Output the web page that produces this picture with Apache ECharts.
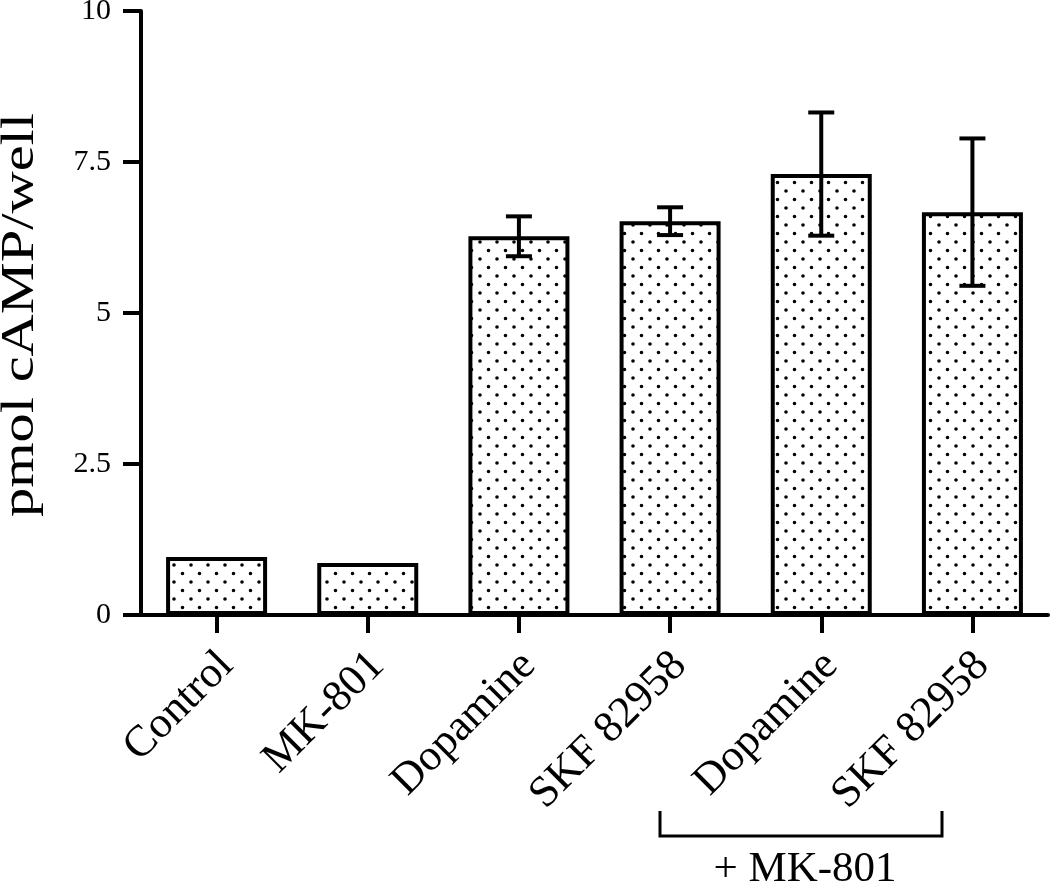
<!DOCTYPE html>
<html>
<head>
<meta charset="utf-8">
<title>pmol cAMP/well</title>
<script src="https://cdn.jsdelivr.net/npm/echarts@6/dist/echarts.min.js"></script>
<style>
  html, body { margin: 0; padding: 0; background: #fff; }
  #chart { width: 1050px; height: 886px; }
</style>
</head>
<body>
<div id="chart"></div>
<script>
// data
const categories = ['Control', 'MK-801', 'Dopamine', 'SKF 82958', 'Dopamine', 'SKF 82958']
const meanValues = [0.96, 0.86, 6.27, 6.52, 7.30, 6.67]
const semValues = [null, null, 0.33, 0.23, 1.02, 1.22]
const yTicks = [0, 2.5, 5, 7.5, 10]
const yTitle = 'pmol cAMP/well'
const groupLabel = '+ MK-801'

const serif = '"Liberation Serif", "Times New Roman", serif'

// dotted fill like the printed stipple
const makeDots = () => {
  const c = document.createElement('canvas')
  c.width = 17
  c.height = 17
  const ctx = c.getContext('2d')
  ctx.fillStyle = '#fff'
  ctx.fillRect(0, 0, 17, 17)
  ctx.fillStyle = '#000'
  ctx.beginPath()
  ctx.arc(4, 4, 1.8, 0, Math.PI * 2)
  ctx.arc(12.5, 12.5, 1.8, 0, Math.PI * 2)
  ctx.fill()
  return c
}

const errData = []
semValues.forEach((s, i) => {
  if (s == null) return
  errData.push([i, meanValues[i] - s, meanValues[i] + s])
})

const chart = echarts.init(document.getElementById('chart'), null, { renderer: 'canvas' })

chart.setOption({
  backgroundColor: '#fff',
  animation: false,
  grid: {
    left: 141,
    right: 2,
    top: 11,
    bottom: 271,
    containLabel: false,
    outerBoundsMode: 'none'
  },
  xAxis: {
    type: 'category',
    data: categories,
    axisLine: { lineStyle: { color: '#000', width: 4 } },
    axisTick: { show: true, alignWithLabel: true, length: 18, lineStyle: { color: '#000', width: 4 } },
    axisLabel: {
      rotate: 45,
      margin: 34,
      verticalAlign: 'top',
      lineHeight: 28,
      color: '#000',
      fontFamily: serif,
      fontSize: 44,
      interval: 0
    }
  },
  yAxis: {
    type: 'value',
    min: yTicks[0],
    max: yTicks[yTicks.length - 1],
    interval: yTicks[1] - yTicks[0],
    axisLine: { show: true, lineStyle: { color: '#000', width: 4 } },
    axisTick: { show: true, length: 18, lineStyle: { color: '#000', width: 4 } },
    splitLine: { show: false },
    axisLabel: { color: '#000', fontFamily: serif, fontSize: 30, margin: 30 }
  },
  series: [
    {
      type: 'bar',
      data: meanValues,
      barWidth: 101,
      itemStyle: {
        color: { image: makeDots(), repeat: 'repeat' },
        borderColor: '#000',
        borderWidth: 4
      },
      z: 2
    },
    {
      type: 'custom',
      data: errData,
      z: 5,
      renderItem: (params, api) => {
        const top = api.coord([api.value(0), api.value(2)])
        const bot = api.coord([api.value(0), api.value(1)])
        const cap = 13
        const st = { stroke: '#000', lineWidth: 4 }
        return {
          type: 'group',
          children: [
            { type: 'line', shape: { x1: top[0], y1: top[1], x2: bot[0], y2: bot[1] }, style: st },
            { type: 'line', shape: { x1: top[0] - cap, y1: top[1], x2: top[0] + cap, y2: top[1] }, style: st },
            { type: 'line', shape: { x1: bot[0] - cap, y1: bot[1], x2: bot[0] + cap, y2: bot[1] }, style: st }
          ]
        }
      }
    }
  ],
  graphic: [
    {
      // y axis title, wide-set like the print
      type: 'text',
      x: 21,
      y: 315,
      rotation: Math.PI / 2,
      scaleX: 1.27,
      style: {
        text: yTitle,
        fontFamily: serif,
        fontSize: 46,
        fill: '#000',
        align: 'center',
        verticalAlign: 'middle'
      }
    },
    {
      type: 'polyline',
      shape: { points: [[660, 811], [660, 836], [942, 836], [942, 811]] },
      style: { stroke: '#000', lineWidth: 3, fill: null }
    },
    {
      type: 'text',
      x: 805,
      y: 870,
      style: {
        text: groupLabel,
        fontFamily: serif,
        fontSize: 43,
        fill: '#000',
        align: 'center',
        verticalAlign: 'middle'
      }
    }
  ]
})

window.addEventListener('resize', () => chart.resize())
</script>
</body>
</html>
